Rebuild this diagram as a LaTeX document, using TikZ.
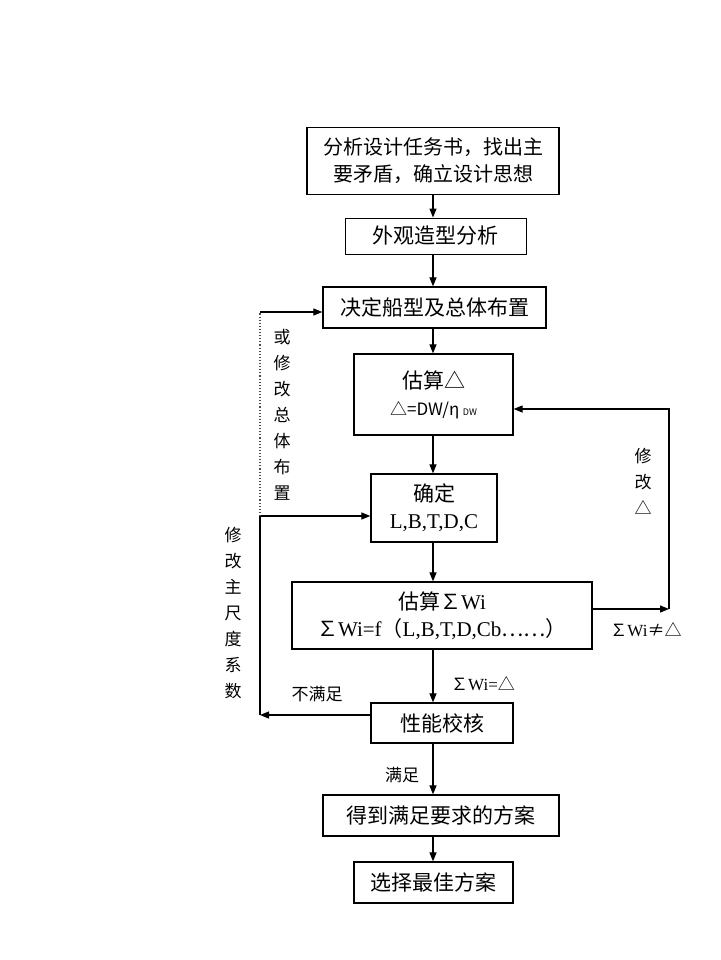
\documentclass[tikz,border=0pt]{standalone}
\usepackage{fontspec}
\setmainfont{Liberation Serif}
\newfontfamily\cjk{Noto Sans CJK SC}
\usetikzlibrary{arrows.meta}
\tikzset{
	box/.style={draw, line width=1.3pt, inner sep=0pt, align=center, font=\cjk\fontsize{21}{27}\selectfont},
	vlabel/.style={align=center, font=\cjk\fontsize{17}{26}\selectfont},
	tag/.style={font=\cjk\fontsize{17}{20}\selectfont},
	flow/.style={line width=1.2pt, -{Triangle[length=9pt,width=7pt]}},
}
\newcommand{\rom}[1]{{\rmfamily #1}}

\begin{document}
\begin{tikzpicture}[x=1pt, y=-1pt]
		%%%%% START %%%%%
		\useasboundingbox (0, 0) rectangle (720, 960);
		
		\node[box, line width=1.8pt, font=\cjk\fontsize{20}{27}\selectfont, minimum width=252pt, minimum height=67pt] (task) at (433, 161) {分析设计任务书，找出主\\要矛盾，确立设计思想};
		\node[box, line width=1pt, minimum width=181pt, minimum height=36pt] (look) at (435.5, 236) {外观造型分析};
		\node[box, minimum width=223pt, minimum height=41pt] (layout) at (434.5, 307.5) {决定船型及总体布置};
		\node[box, minimum width=159pt, minimum height=81pt] (disp) at (433.5, 394.5) {估算△\\{\fontsize{17}{20}\selectfont △=DW/η}\,{\fontsize{9}{9}\selectfont DW}};
		\node[box, minimum width=126pt, minimum height=68pt] (dims) at (434, 508) {确定\\\rom{L,B,T,D,C}};
		\node[box, minimum width=300pt, minimum height=67pt] (weight) at (442, 615.5) {估算∑\rom{Wi}\\∑\rom{Wi=f}（\rom{L,B,T,D,Cb}……）};
		\node[box, minimum width=142pt, minimum height=40pt] (perf) at (442, 723) {性能校核};
		\node[box, minimum width=236pt, minimum height=41pt] (ok) at (441, 815.5) {得到满足要求的方案};
		\node[box, minimum width=159pt, minimum height=41pt] (best) at (433.5, 882.5) {选择最佳方案};
		
		\coordinate (down) at (433, 0);
		\draw[flow] (down |- task.south) -- (down |- look.north);
		\draw[flow] (down |- look.south) -- (down |- layout.north);
		\draw[flow] (down |- layout.south) -- (down |- disp.north);
		\draw[flow] (down |- disp.south) -- (down |- dims.north);
		\draw[flow] (down |- dims.south) -- (down |- weight.north);
		\draw[flow] (down |- weight.south) -- (down |- perf.north);
		\draw[flow] (down |- perf.south) -- (down |- ok.north);
		\draw[flow] (down |- ok.south) -- (down |- best.north);
		
		% right loop
		\coordinate (rt) at (669, 409);
		\coordinate (rb) at (669, 609);
		\draw[flow] (weight.east |- rb) -- (rb);
		\draw[flow] (rb) -- (rt) -- (disp.east |- rt);
		
		% left loop
		\coordinate (lt) at (260, 312);
		\coordinate (lm) at (260, 516);
		\coordinate (lb) at (260, 715);
		\draw[flow] (perf.west |- lb) -- (lb);
		\draw[flow] (lb) -- (lm) -- (dims.west |- lm);
		\draw[line width=1.1pt, dotted, black!70] (lm) -- (lt);
		\draw[flow] (lt) -- (layout.west |- lt);
		
		\node[vlabel] (relayout) at (282, 415) {或\\修\\改\\总\\体\\布\\置};
		\node[vlabel] (resize) at (233, 613.5) {修\\改\\主\\尺\\度\\系\\数};
		\node[vlabel] (redisp) at (643, 481) {修\\改\\△};
		\node[tag] (fail) at (317, 694) {不满足};
		\node[tag] (pass) at (402, 775) {满足};
		\node[tag] (equal) at (483, 684) {∑\rom{Wi=}△};
		\node[tag] (unequal) at (646, 630) {∑\rom{Wi}≠△};
		
		%%%%% END %%%%%
\end{tikzpicture}
\end{document}
